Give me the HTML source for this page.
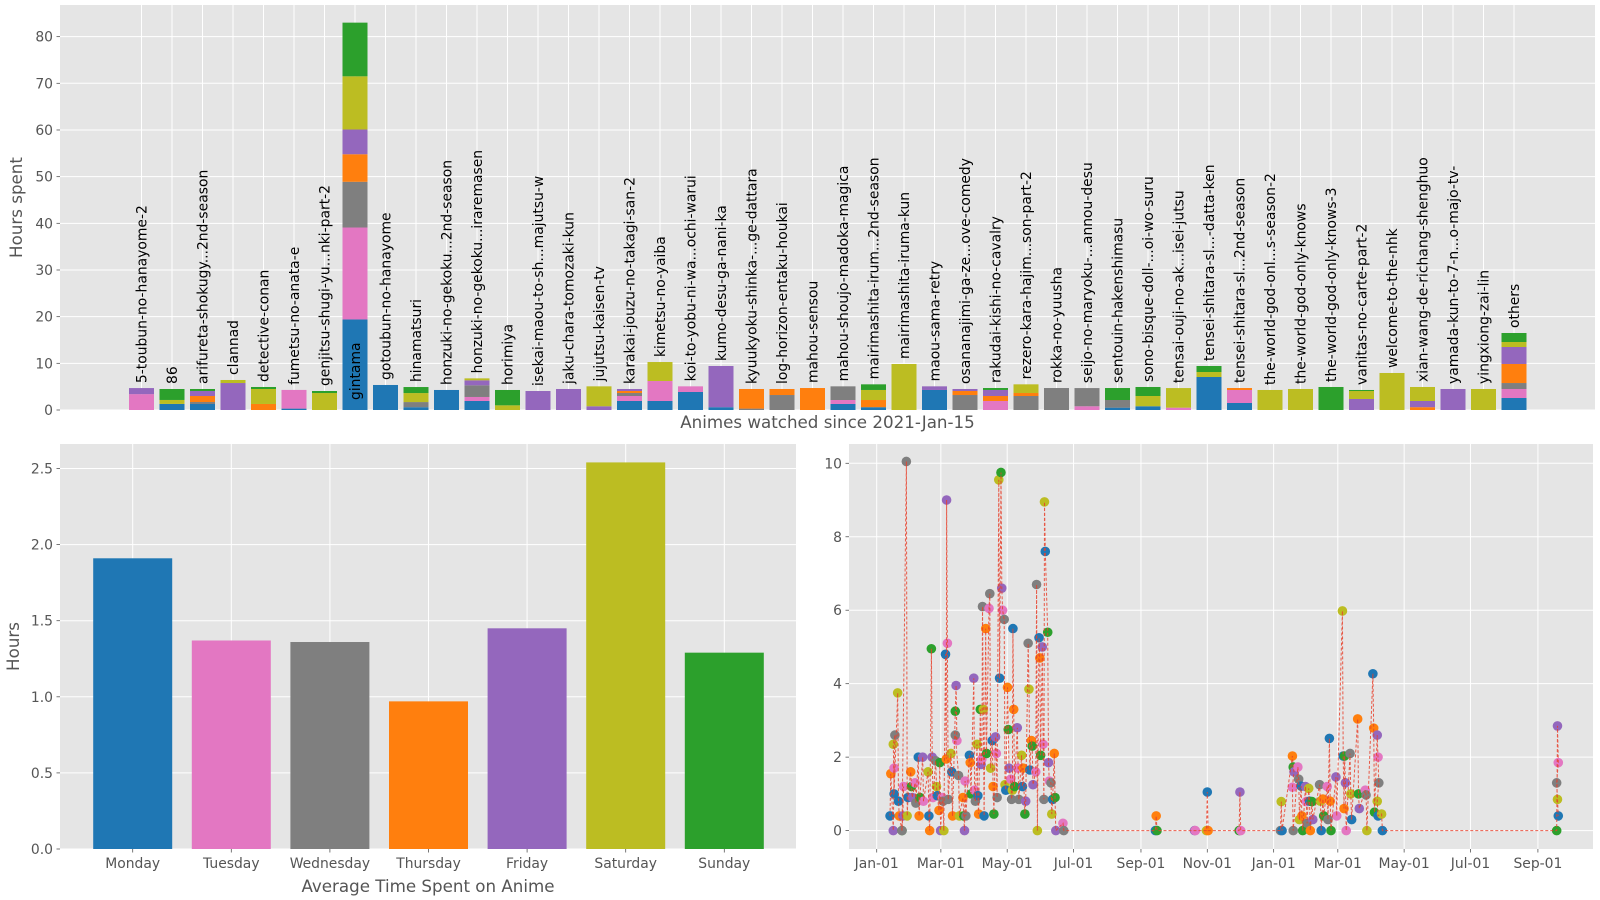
<!DOCTYPE html>
<html><head><meta charset="utf-8"><style>
html,body{margin:0;padding:0;background:#fff;}
svg{display:block;font-family:"DejaVu Sans","Liberation Sans",sans-serif;}
</style></head><body>
<svg id="chart" width="1600" height="900" viewBox="0 0 1600 900" xmlns="http://www.w3.org/2000/svg"></svg>
<script>
// ---------- DATA ----------
const C = {b:'#1f77b4',o:'#ff7f0e',g:'#2ca02c',p:'#9467bd',k:'#e377c2',y:'#7f7f7f',l:'#bcbd22'};
const animeNames = ["5-toubun-no-hanayome-2","86","arifureta-shokugy...2nd-season","clannad","detective-conan","fumetsu-no-anata-e","genjitsu-shugi-yu...nki-part-2","gintama","gotoubun-no-hanayome","hinamatsuri","honzuki-no-gekoku...2nd-season","honzuki-no-gekoku...iraremasen","horimiya","isekai-maou-to-sh...majutsu-w","jaku-chara-tomozaki-kun","jujutsu-kaisen-tv","karakai-jouzu-no-takagi-san-2","kimetsu-no-yaiba","koi-to-yobu-ni-wa...ochi-warui","kumo-desu-ga-nani-ka","kyuukyoku-shinka-...ge-dattara","log-horizon-entaku-houkai","mahou-sensou","mahou-shoujo-madoka-magica","mairimashita-irum...2nd-season","mairimashita-iruma-kun","maou-sama-retry","osananajimi-ga-ze...ove-comedy","rakudai-kishi-no-cavalry","rezero-kara-hajim...son-part-2","rokka-no-yuusha","seijo-no-maryoku-...annou-desu","sentouin-hakenshimasu","sono-bisque-doll-...oi-wo-suru","tensai-ouji-no-ak...isei-jutsu","tensei-shitara-sl...-datta-ken","tensei-shitara-sl...2nd-season","the-world-god-onl...s-season-2","the-world-god-only-knows","the-world-god-only-knows-3","vanitas-no-carte-part-2","welcome-to-the-nhk","xian-wang-de-richang-shenghuo","yamada-kun-to-7-n...o-majo-tv-","yingxiong-zai-lin","others"];
const segColors = [
 "k p","b l g","b y o p g","p l","o l g","b k","l g","b k y o p l g","b","b y l g","b","b k y p l","l g","p","p",
 "p l","b k y o p","b k l","b k","b p","y o","y o","o","b k y","b o l g","l","b p","y o p","k o p g","y o l","y",
 "k y","b y g","b l g","k l","b l g","b k o","l","l","g","p l g","l","o p l","p","l","b k y o p l g"];
const segValues = [
 [3.4,1.3],[1.3,0.85,2.35],[1.29,0.42,1.29,1.07,0.43],[5.78,0.65],[1.29,3.21,0.43],[0.3,4.0],[3.64,0.43],
 [19.4,19.7,9.8,5.9,5.3,11.4,11.5],[5.36],[0.6,1.1,1.93,1.29],[4.29],[1.93,0.86,2.5,1.07,0.42],[1.0,3.29],[4.07],[4.5],
 [0.8,4.27],[1.93,1.07,0.64,0.43,0.43],[1.93,4.28,4.07],[3.86,1.21],[0.6,8.83],[0.3,4.2],[3.21,1.29],[4.71],[1.29,0.85,2.93],
 [0.6,1.54,2.15,1.21],[9.86],[4.29,0.78],[3.21,0.86,0.43],[1.93,1.07,1.29,0.42],[3.0,0.64,1.86],[4.71],
 [0.8,3.9],[0.5,1.64,2.57],[0.8,2.2,1.93],[0.5,4.2],[7.07,1.07,1.29],[1.5,2.79,0.42],[4.29],[4.5],[4.93],
 [2.36,1.71,0.22],[7.93],[0.6,1.33,3.0],[4.5],[4.5],[2.57,1.93,1.28,4.08,3.64,1.07,1.93]];
const topTicks = [0,10,20,30,40,50,60,70,80];

const days = ["Monday","Tuesday","Wednesday","Thursday","Friday","Saturday","Sunday"];
const dayHours = [1.91,1.37,1.36,0.97,1.45,2.54,1.29];
const dayColors = ['#1f77b4','#e377c2','#7f7f7f','#ff7f0e','#9467bd','#bcbd22','#2ca02c'];
const dayTicks = [0,0.5,1.0,1.5,2.0,2.5];

// scatter: day offsets since 2021-01-01 and hours watched per entry that day
const sDays = [13,16,20,24,28,32,36,39,43,48,51,55,58,61,64,65,69,73,76,80,82,86,90,93,96,98,101,104,107,110,113,115,118,121,124,126,130,134,137,140,143,147,150,153,155,158,161,164,172,257,293,304,334,
 372,383,388,391,395,398,401,408,411,415,417,423,429,431,436,443,450,457,461,465,626];
const sHours = [
 [0.4,1.55],[0,1.7,2.6,2.35,1.0],[3.75,0.8,0.4],[0,0.4,1.2,0],[10.05,0.4,0.9],[1.6,1.2,0.9],[1.3,0.75],[2.0,0.4,0.9],[2.0,0.8],[1.6,0.4,0],
 [4.95,2.0,0.9],[1.9,1.2,0.95],[0.55,1.85,0],[0.9,0.8,0],[4.8,1.95],[9.0,5.1,0.85],[2.1,1.6,0.4],[3.25,3.95,2.45,2.6],[1.5,0.4],[0.9,0.4,0],
 [1.35,0.4],[2.05,1.85,1.0],[4.15,1.1,0.8],[2.35,0.95,0.45],[3.3,1.8,1.95],[6.1,3.3,0.4],[5.5,2.1],[6.05,6.45,1.7],[2.45,1.2,0.45],[2.55,2.1,0.9],
 [9.55,4.15],[9.75,6.6,6.0],[5.75,1.25,1.1],[3.9,2.75,1.7],[1.4,0.85,1.1],[5.5,3.3,1.2],[2.8,1.7,0.85],[2.05,1.2,1.7],[0.45,0.8],[5.1,3.85,1.65],
 [2.45,2.3,1.25],[1.6,6.7,0],[5.25,4.7,2.05],[5.0,2.35,0.85],[8.95,7.6],[5.4,1.85,1.35],[1.3,0.45,0.85],[2.1,0.9,0],[0.2,0],[0,0.4,0],[0,0],[0,1.05,0],[0,1.05,0],
 [0,0.79,0],[2.03,1.73,1.6,1.18,0],[1.73,1.4,0.3],[1.21,0.4,0],[1.2,0.79,0.2],[1.15,0.8,0],[0.79,0.3],[1.25,0.8,0],[0.86,0.4],[1.2,0.3],[2.51,0.8,0],[1.46,0.4],
 [5.98,2.03,0.6],[2.03,1.3,0],[2.1,1.0,0.3],[3.04,1.0,0.6],[1.1,0.97,0],[4.27,2.79,0.5],[2.6,2.0,1.3,0.8,0.4],[0.45,0],[0,2.85,1.85,1.3,0.85,0.4]];
const sTicksLabel = ["Jan-01","Mar-01","May-01","Jul-01","Sep-01","Nov-01","Jan-01","Mar-01","May-01","Jul-01","Sep-01"];
const sTicksDay = [0,59,120,181,243,304,365,424,485,546,608];
const sYTicks = [0,2,4,6,8,10];

// ---------- DRAWING ----------
const svg = document.getElementById('chart');
const NS = 'http://www.w3.org/2000/svg';
function mk(tag, attrs, parent){const e=document.createElementNS(NS,tag);for(const k in attrs)e.setAttribute(k,attrs[k]);(parent||svg).appendChild(e);return e;}
const TXT='#555', FS=13.9;

// ===== TOP CHART =====
const T = {l:60,r:1595,t:5,b:410};
const tY = v => T.b - v*4.667;
const tX = i => 141.5 + i*30.5;
let g = mk('g',{});


let bg = mk('rect',{x:T.l,y:T.t,width:T.r-T.l,height:T.b-T.t,fill:'#e5e5e5'},g);


topTicks.forEach(v=>{
  mk('line',{x1:T.l,x2:T.r,y1:tY(v),y2:tY(v),stroke:'#fff','stroke-width':1},g);
  mk('line',{x1:T.l-3.5,x2:T.l,y1:tY(v),y2:tY(v),stroke:TXT,'stroke-width':0.8},g);
  const t=mk('text',{x:T.l-7,y:tY(v)+5,'text-anchor':'end','font-size':FS,fill:TXT},g);
  t.textContent=v;
  
  
});
animeNames.forEach((n,i)=>{
  mk('line',{x1:tX(i),x2:tX(i),y1:T.t,y2:T.b,stroke:'#fff','stroke-width':1},g);
});
animeNames.forEach((n,i)=>{
  const cols=segColors[i].split(' '); let base=0;
  segValues[i].forEach((v,j)=>{
    const r=mk('rect',{x:tX(i)-12.5,y:tY(base+v),width:25,height:v*4.667,fill:C[cols[j]]},g);
    
    
    base+=v;
  });
  const ly = n==='gintama' ? T.b-10 : tY(base)-5;
  const t=mk('text',{x:tX(i)+5,y:ly,'font-size':FS,fill:'#000',transform:`rotate(-90 ${tX(i)+5} ${ly})`},g);
  t.textContent=n;
  
  
});
let tl=mk('text',{x:(T.l+T.r)/2,y:428,'text-anchor':'middle','font-size':16.7,fill:TXT},g);
tl.textContent='Animes watched since 2021-Jan-15';


tl=mk('text',{x:22,y:(T.t+T.b)/2,'text-anchor':'middle','font-size':16.7,fill:TXT,transform:`rotate(-90 22 ${(T.t+T.b)/2})`},g);
tl.textContent='Hours spent';



// ===== BOTTOM LEFT =====
const L = {l:60,r:796,t:444,b:849};
const lY = v => L.b - v*152.2;
const lX = i => 132.7 + i*98.6;
g = mk('g',{});


bg = mk('rect',{x:L.l,y:L.t,width:L.r-L.l,height:L.b-L.t,fill:'#e5e5e5'},g);


dayTicks.forEach(v=>{
  mk('line',{x1:L.l,x2:L.r,y1:lY(v),y2:lY(v),stroke:'#fff','stroke-width':1},g);
  mk('line',{x1:L.l-3.5,x2:L.l,y1:lY(v),y2:lY(v),stroke:TXT,'stroke-width':0.8},g);
  const t=mk('text',{x:L.l-7,y:lY(v)+5,'text-anchor':'end','font-size':FS,fill:TXT},g);
  t.textContent=v.toFixed(1);
  
  
});
days.forEach((d,i)=>{
  mk('line',{x1:lX(i),x2:lX(i),y1:L.t,y2:L.b,stroke:'#fff','stroke-width':1},g);
  const r=mk('rect',{x:lX(i)-39.5,y:lY(dayHours[i]),width:79,height:dayHours[i]*152.2,fill:dayColors[i]},g);
  
  
  mk('line',{x1:lX(i),x2:lX(i),y1:L.b,y2:L.b+3.5,stroke:TXT,'stroke-width':0.8},g);
  const t=mk('text',{x:lX(i),y:L.b+19,'text-anchor':'middle','font-size':FS,fill:TXT},g);
  t.textContent=d;
  
  
});
tl=mk('text',{x:(L.l+L.r)/2,y:892,'text-anchor':'middle','font-size':16.7,fill:TXT},g);
tl.textContent='Average Time Spent on Anime';


tl=mk('text',{x:19,y:(L.t+L.b)/2,'text-anchor':'middle','font-size':16.7,fill:TXT,transform:`rotate(-90 19 ${(L.t+L.b)/2})`},g);
tl.textContent='Hours';



// ===== BOTTOM RIGHT =====
const S = {l:849,r:1593,t:444,b:849};
const sX = d => 876.7 + d*1.0875;
const sY = v => 830.6 - v*36.73;
g = mk('g',{});


bg = mk('rect',{x:S.l,y:S.t,width:S.r-S.l,height:S.b-S.t,fill:'#e5e5e5'},g);


sYTicks.forEach(v=>{
  mk('line',{x1:S.l,x2:S.r,y1:sY(v),y2:sY(v),stroke:'#fff','stroke-width':1},g);
  mk('line',{x1:S.l-3.5,x2:S.l,y1:sY(v),y2:sY(v),stroke:TXT,'stroke-width':0.8},g);
  const t=mk('text',{x:S.l-7,y:sY(v)+5,'text-anchor':'end','font-size':FS,fill:TXT},g);
  t.textContent=v;
  
  
});
sTicksDay.forEach((d,i)=>{
  mk('line',{x1:sX(d),x2:sX(d),y1:S.t,y2:S.b,stroke:'#fff','stroke-width':1},g);
  mk('line',{x1:sX(d),x2:sX(d),y1:S.b,y2:S.b+3.5,stroke:TXT,'stroke-width':0.8},g);
  const t=mk('text',{x:sX(d),y:S.b+19,'text-anchor':'middle','font-size':FS,fill:TXT},g);
  t.textContent=sTicksLabel[i];
  
  
});
const dotCols=['#1f77b4','#ff7f0e','#2ca02c','#9467bd','#e377c2','#7f7f7f','#bcbd22'];
const pts=[]; 
sDays.forEach((d,i)=>{ sHours[i].forEach((v,j)=>{ pts.push([sX(d)+(j%3-1)*0.8, sY(v), (i*3+j)%7]); }); });
const dots=mk('g',{},g);


pts.forEach(p=>{
  const c=mk('circle',{cx:p[0],cy:p[1],r:4.8,fill:dotCols[p[2]]},dots);
  
  
});
const line=mk('polyline',{points:pts.map(p=>p[0].toFixed(1)+','+p[1].toFixed(1)).join(' '),fill:'none',stroke:'#e8402a','stroke-width':1,'stroke-dasharray':'3,2','stroke-opacity':0.85},g);


</script>
</body></html>
